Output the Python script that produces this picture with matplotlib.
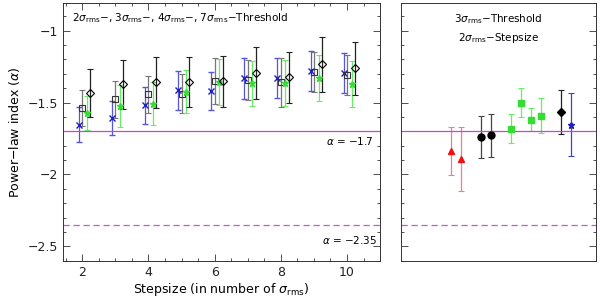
import matplotlib.pyplot as plt
from matplotlib.ticker import MultipleLocator, NullLocator
import numpy as np

# left panel: stepsize in units of sigma_rms
stepsize = np.array([2, 3, 4, 5, 6, 7, 8, 9, 10])

alpha_2sig = [-1.653, -1.607, -1.519, -1.414, -1.419, -1.332, -1.328, -1.281, -1.293]
err_2sig = [0.12, 0.12, 0.13, 0.135, 0.133, 0.14, 0.14, 0.137, 0.14]
alpha_3sig = [-1.535, -1.477, -1.442, -1.437, -1.351, -1.344, -1.358, -1.288, -1.309]
err_3sig = [0.125, 0.13, 0.13, 0.135, 0.16, 0.14, 0.17, 0.14, 0.14]
alpha_4sig = [-1.572, -1.525, -1.507, -1.423, -1.356, -1.367, -1.363, -1.332, -1.372]
err_4sig = [0.12, 0.145, 0.15, 0.15, 0.16, 0.157, 0.16, 0.16, 0.16]
alpha_7sig = [-1.433, -1.374, -1.36, -1.356, -1.353, -1.295, -1.325, -1.234, -1.26]
err_7sig = [0.165, 0.17, 0.18, 0.175, 0.18, 0.18, 0.18, 0.19, 0.185]

# right panel: 3 sigma threshold, 2 sigma stepsize, different datasets
tri_alpha = [-1.837, -1.893]
tri_err = [0.17, 0.225]
circ_alpha = [-1.74, -1.728]
circ_err = [0.147, 0.15]
sq_alpha = [-1.681, -1.5, -1.618, -1.59]
sq_err = [0.1, 0.1, 0.08, 0.12]
dia_alpha = [-1.563]
dia_err = [0.152]
ast_alpha = [-1.653]
ast_err = [0.22]

alpha_ref1 = -1.7
alpha_ref2 = -2.35

plt.rcParams['font.family'] = 'DejaVu Sans'
plt.rcParams['font.size'] = 8.5
plt.rcParams['mathtext.fontset'] = 'dejavusans'

fig = plt.figure(figsize=(6, 3), dpi=100)
ax1 = fig.add_axes([0.1045, 0.131, 0.529, 0.859])
ax2 = fig.add_axes([0.668, 0.131, 0.3255, 0.859])

kw = dict(capsize=2.5, elinewidth=0.9, capthick=0.8, linestyle='none')

ax1.errorbar(stepsize - 0.1, alpha_2sig, yerr=err_2sig, fmt='x', color='#2020c0',
             ecolor='#5555dd', ms=4, mew=1.0, **kw)
ax1.errorbar(stepsize, alpha_3sig, yerr=err_3sig, fmt='s', mfc='none', mec='#333333',
             ecolor='#777777', ms=4, mew=0.8, **kw)
ax1.errorbar(stepsize + 0.14, alpha_4sig, yerr=err_4sig, fmt='*', color='#33dd33',
             ecolor='#66ee66', ms=5, **kw)
ax1.errorbar(stepsize + 0.24, alpha_7sig, yerr=err_7sig, fmt='D', mfc='none', mec='black',
             ecolor='#222222', ms=4, mew=0.8, **kw)

# right panel: groups placed one after another with gaps
starts = [5, 8, 11, 16, 17]
groups = [
    (tri_alpha, tri_err, '^', '#ee1111', '#f08080', 4.5),
    (circ_alpha, circ_err, 'o', 'black', '#444444', 5),
    (sq_alpha, sq_err, 's', '#33dd33', '#66ee66', 4),
    (dia_alpha, dia_err, 'D', 'black', '#222222', 4),
    (ast_alpha, ast_err, '*', '#2020c0', '#4444bb', 5),
]
for x0, (vals, errs, fmt, mc, ec, ms) in zip(starts, groups):
    xs = np.arange(len(vals)) + x0
    ax2.errorbar(xs, vals, yerr=errs, fmt=fmt, color=mc, ecolor=ec, ms=ms, **kw)

for ax in (ax1, ax2):
    ax.axhline(alpha_ref1, color='#cc44cc', lw=0.9)
    ax.axhline(alpha_ref2, color='#cc55cc', lw=0.9, ls=(0, (5, 3)))
    ax.set_ylim(-2.6, -0.807)
    ax.yaxis.set_major_locator(MultipleLocator(0.5))
    ax.yaxis.set_minor_locator(MultipleLocator(0.1))
    ax.tick_params(which='both', direction='in', top=True, right=True,
                   colors='#333333', labelcolor='#222222', width=0.6)
    ax.tick_params(which='major', length=5)
    ax.tick_params(which='minor', length=2.5)
    for s in ax.spines.values():
        s.set_linewidth(0.7)
        s.set_color('#333333')

ax1.set_xlim(1.41, 11.0)
ax1.xaxis.set_minor_locator(MultipleLocator(0.5))
ax1.set_yticks([-1, -1.5, -2, -2.5])
ax1.set_yticklabels(['\u22121', '\u22121.5', '\u22122', '\u22122.5'], fontsize=9)
ax1.set_xticks([2, 4, 6, 8, 10])
ax1.set_xticklabels(['2', '4', '6', '8', '10'], fontsize=9)
ax1.set_xlabel(r'Stepsize (in number of $\sigma_{\rm rms}$)', fontsize=9, labelpad=2)
ax1.set_ylabel(r'Power$-$law index ($\alpha$)', fontsize=9, labelpad=4)

ax1.text(0.03, 0.97, r'2$\sigma_{\rm rms}$$-$, 3$\sigma_{\rm rms}$$-$, 4$\sigma_{\rm rms}$$-$, '
         r'7$\sigma_{\rm rms}$$-$Threshold', transform=ax1.transAxes, ha='left', va='top', fontsize=7.5)
ax1.text(0.98, alpha_ref1 - 0.065, r'$\alpha$ = $-$1.7', transform=ax1.get_yaxis_transform(),
         ha='right', va='center', fontsize=7.5)
ax1.text(0.99, alpha_ref2 - 0.105, r'$\alpha$ = $-$2.35', transform=ax1.get_yaxis_transform(),
         ha='right', va='center', fontsize=7.5)

ax2.set_xlim(0, 19.53)
ax2.xaxis.set_major_locator(NullLocator())
ax2.set_yticklabels([])
ax2.text(0.5, 0.965, r'3$\sigma_{\rm rms}$$-$Threshold' + '\n' + r'2$\sigma_{\rm rms}$$-$Stepsize',
         transform=ax2.transAxes, ha='center', va='top', fontsize=7.5, linespacing=1.5)

fig.savefig('out.png', dpi=100)
